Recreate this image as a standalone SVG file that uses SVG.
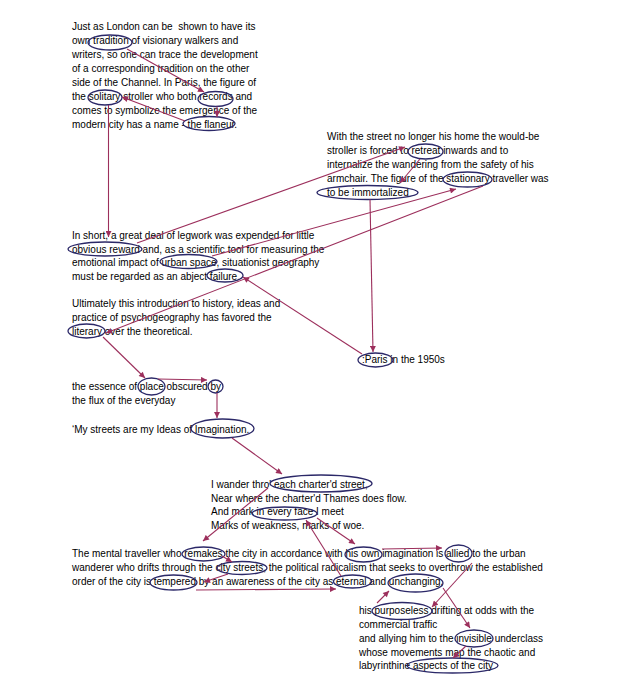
<svg xmlns="http://www.w3.org/2000/svg" width="625" height="692" viewBox="0 0 625 692">
<defs>
<style>
text{font-family:"Liberation Sans",Arial,sans-serif;font-size:10px;fill:#000;white-space:pre}
.ov{fill:none;stroke:#2b2868;stroke-width:1.3}
.c{fill:none;stroke:#9c2f5c;stroke-width:1.1;marker-end:url(#ah)}
</style>
<marker id="ah" viewBox="0 0 10 10" refX="10" refY="5" markerWidth="7" markerHeight="6" markerUnits="userSpaceOnUse" orient="auto">
<path d="M0,0 L10,5 L0,10 z" fill="#9c2f5c"/>
</marker>
</defs>
<rect width="625" height="692" fill="#fff"/>

<g id="p-london">
<text x="72" y="30">Just as London can be  shown to have its</text>
<text x="72" y="44">own tradition of visionary walkers and</text>
<text x="72" y="58">writers, so one can trace the development</text>
<text x="72" y="72">of a corresponding tradition on the other</text>
<text x="72" y="86">side of the Channel. In Paris, the figure of</text>
<text x="72" y="100">the solitary stroller who both records and</text>
<text x="72" y="114">comes to symbolize the emergence of the</text>
<text x="72" y="128">modern city has a name - the flaneur.</text>
</g>
<g id="p-street">
<text x="327" y="140">With the street no longer his home the would-be</text>
<text x="327" y="154">stroller is forced to retreat inwards and to</text>
<text x="327" y="168">internalize the wandering from the safety of his</text>
<text x="327" y="182">armchair. The figure of the stationary traveller was</text>
<text x="327" y="196">to be immortalized</text>
</g>
<g id="p-short">
<text x="72" y="239">In short, a great deal of legwork was expended for little</text>
<text x="72" y="253">obvious reward and, as a scientific tool for measuring the</text>
<text x="72" y="266">emotional impact of urban space, situationist geography</text>
<text x="72" y="280">must be regarded as an abject failure.</text>
</g>
<g id="p-ultimately">
<text x="72" y="307">Ultimately this introduction to history, ideas and</text>
<text x="72" y="321">practice of psychogeography has favored the</text>
<text x="72" y="335">literary over the theoretical.</text>
</g>
<g id="p-paris">
<text x="362" y="363">:Paris in the 1950s</text>
</g>
<g id="p-essence">
<text x="72" y="390">the essence of place obscured by</text>
<text x="72" y="404">the flux of the everyday</text>
</g>
<g id="p-mystreets">
<text x="72" y="433">‘My streets are my Ideas of Imagination.</text>
</g>
<g id="p-poem">
<text x="211" y="488">I wander thro' each charter'd street,</text>
<text x="211" y="502">Near where the charter'd Thames does flow.</text>
<text x="211" y="515">And mark in every face I meet</text>
<text x="211" y="529">Marks of weakness, marks of woe.</text>
</g>
<g id="p-mental">
<text x="72" y="557">The mental traveller who remakes the city in accordance with his own imagination is allied to the urban</text>
<text x="72" y="571">wanderer who drifts through the city streets, the political radicalism that seeks to overthrow the established</text>
<text x="72" y="585">order of the city is tempered by an awareness of the city as eternal and unchanging,</text>
</g>
<g id="p-purposeless">
<text x="359" y="614">his purposeless drifting at odds with the</text>
<text x="359" y="628">commercial traffic</text>
<text x="359" y="642">and allying him to the invisible underclass</text>
<text x="359" y="656">whose movements map the chaotic and</text>
<text x="359" y="669">labyrinthine aspects of the city</text>
</g>

<g id="n-tradition"><ellipse class="ov" cx="110" cy="42.5" rx="22" ry="7.5"/></g>
<g id="n-records"><ellipse class="ov" cx="215.5" cy="99" rx="17.5" ry="7.5"/></g>
<g id="n-solitary"><ellipse class="ov" cx="105" cy="97.5" rx="17" ry="7.5"/></g>
<g id="n-flaneur"><ellipse class="ov" cx="209" cy="123.5" rx="26" ry="7"/></g>
<g id="n-retreat"><ellipse class="ov" cx="425.5" cy="151.5" rx="17.5" ry="7.5"/></g>
<g id="n-stationary"><ellipse class="ov" cx="467.5" cy="179.5" rx="24.5" ry="7.5"/></g>
<g id="n-immortalized"><ellipse class="ov" cx="367.5" cy="192.5" rx="50.5" ry="7"/></g>
<g id="n-obvious"><ellipse class="ov" cx="105" cy="249" rx="37" ry="7"/></g>
<g id="n-urban"><ellipse class="ov" cx="188.5" cy="261.5" rx="28.5" ry="7"/></g>
<g id="n-failure"><ellipse class="ov" cx="225" cy="275.5" rx="18" ry="6.5"/></g>
<g id="n-literary"><ellipse class="ov" cx="86.5" cy="331" rx="18.5" ry="7"/></g>
<g id="n-paris"><ellipse class="ov" cx="375.5" cy="360" rx="17.5" ry="7"/></g>
<g id="n-place"><ellipse class="ov" cx="151.5" cy="386.5" rx="13.5" ry="8.5"/></g>
<g id="n-by"><ellipse class="ov" cx="215.5" cy="386.5" rx="7.5" ry="6.5"/></g>
<g id="n-imagination"><ellipse class="ov" cx="222.5" cy="428.5" rx="31.5" ry="9.5"/></g>
<g id="n-street"><ellipse class="ov" cx="321" cy="483.5" rx="51" ry="8.5"/></g>
<g id="n-face"><ellipse class="ov" cx="284.5" cy="513.5" rx="32.5" ry="6.5"/></g>
<g id="n-remakes"><ellipse class="ov" cx="203.5" cy="554" rx="21.5" ry="7"/></g>
<g id="n-citystreets"><ellipse class="ov" cx="242" cy="568" rx="25" ry="6.5"/></g>
<g id="n-tempered"><ellipse class="ov" cx="173.5" cy="582.5" rx="23.5" ry="7.5"/></g>
<g id="n-hisown"><ellipse class="ov" cx="363.5" cy="554.5" rx="18.5" ry="7.5"/></g>
<g id="n-allied"><ellipse class="ov" cx="458.5" cy="553.5" rx="13.5" ry="8.5"/></g>
<g id="n-eternal"><ellipse class="ov" cx="352.5" cy="581.5" rx="19" ry="6.5"/></g>
<g id="n-unchanging"><ellipse class="ov" cx="415.5" cy="583" rx="27.5" ry="9"/></g>
<g id="n-purposeless"><ellipse class="ov" cx="402" cy="611" rx="30" ry="8.5"/></g>
<g id="n-invisible"><ellipse class="ov" cx="474" cy="638.5" rx="19" ry="8.5"/></g>
<g id="n-aspects"><ellipse class="ov" cx="452.5" cy="665.5" rx="45.5" ry="7.5"/></g>

<g id="connectors">
<line class="c" x1="127" y1="49" x2="204" y2="92"/>
<line class="c" x1="217" y1="106.5" x2="217" y2="117"/>
<line class="c" x1="185" y1="121" x2="122" y2="97"/>
<line class="c" x1="108.5" y1="105" x2="108.5" y2="237"/>
<line class="c" x1="137" y1="243" x2="405" y2="147"/>
<line class="c" x1="420" y1="159" x2="400" y2="183"/>
<line class="c" x1="370" y1="199.5" x2="373" y2="352"/>
<line class="c" x1="212" y1="256" x2="456" y2="189"/>
<line class="c" x1="483" y1="186" x2="106" y2="333"/>
<line class="c" x1="362" y1="354" x2="243" y2="277"/>
<line class="c" x1="103" y1="337" x2="145" y2="378"/>
<line class="c" x1="158" y1="379" x2="207" y2="380"/>
<line class="c" x1="217" y1="393" x2="217" y2="418"/>
<line class="c" x1="232" y1="438" x2="282" y2="474"/>
<line class="c" x1="268" y1="488" x2="203" y2="541"/>
<line class="c" x1="317" y1="518" x2="355" y2="544"/>
<line class="c" x1="341" y1="576" x2="306" y2="520"/>
<line class="c" x1="222" y1="556" x2="232" y2="562"/>
<line class="c" x1="228" y1="574" x2="204" y2="582"/>
<line class="c" x1="196" y1="590" x2="336" y2="589"/>
<line class="c" x1="382" y1="549" x2="442" y2="548"/>
<line class="c" x1="472" y1="563" x2="432" y2="607"/>
<line class="c" x1="443" y1="588" x2="470" y2="628"/>
<line class="c" x1="377" y1="603" x2="389" y2="591"/>
<line class="c" x1="466" y1="646" x2="453" y2="658"/>
</g>
</svg>
